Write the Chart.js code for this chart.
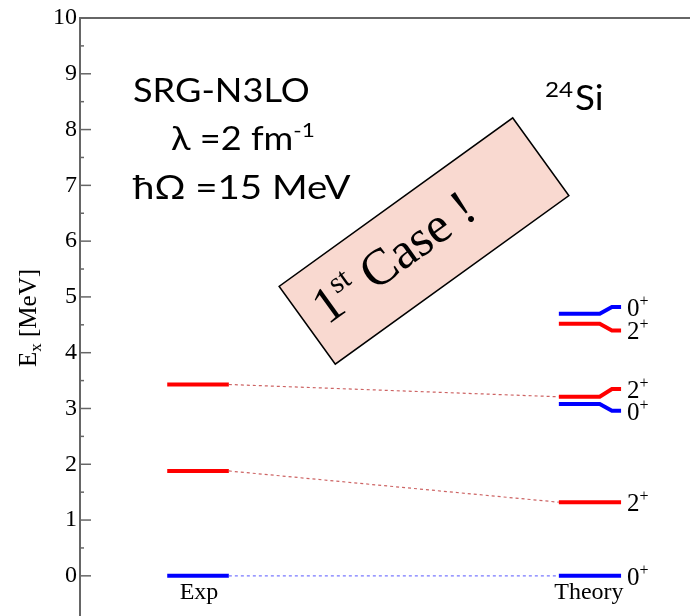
<!DOCTYPE html>
<html>
<head>
<meta charset="utf-8">
<script src="https://cdn.jsdelivr.net/npm/chart.js@4.4.0/dist/chart.umd.min.js"></script>
<style>
html, body { margin: 0; padding: 0; background: #fff; }
#wrap { width: 690px; height: 616px; }
</style>
</head>
<body>
<div id="wrap"><canvas id="myChart" width="690" height="616"></canvas></div>
<script>
// level data (MeV)
var columns = ['Exp', 'Theory'];
var expEnergies = [0, 1.88, 3.43];
var expSpins = ['0', '2', '2'];
var theoryEnergies = [0, 1.32, 3.08, 3.21, 4.52, 4.70];
var theorySpins = ['0', '2', '0', '2', '2', '0'];
var theoryLabelEnergies = [0, 1.32, 2.96, 3.35, 4.40, 4.82];
var links = [[0, 0], [1, 1], [2, 3]]; // exp level -> theory level
var yTicks = [0, 1, 2, 3, 4, 5, 6, 7, 8, 9, 10];

var RED = '#ff0000', BLUE = '#0000ff';
var expX = [1.43, 2.44];
var theoryX = [7.85, 8.52, 8.72, 8.87];
var serif = '"Liberation Serif", "DejaVu Serif", serif';
var sans = 'Lato, "Open Sans", sans-serif';

function spinColor(s) { return s === '0' ? BLUE : RED; }

var datasets = [];
links.forEach(function (l) {
    var s = expSpins[l[0]];
    datasets.push({
        data: [{x: expX[1], y: expEnergies[l[0]]}, {x: theoryX[0], y: theoryEnergies[l[1]]}],
        borderColor: s === '0' ? 'rgba(120,120,255,1)' : 'rgba(205,100,100,1)',
        borderWidth: 1.2,
        borderDash: [3, 3]
    });
});
expEnergies.forEach(function (e, i) {
    datasets.push({
        data: [{x: expX[0], y: e}, {x: expX[1], y: e}],
        borderColor: spinColor(expSpins[i]),
        borderWidth: 4
    });
});
theoryEnergies.forEach(function (e, i) {
    var le = theoryLabelEnergies[i];
    datasets.push({
        data: [{x: theoryX[0], y: e}, {x: theoryX[1], y: e}, {x: theoryX[2], y: le}, {x: theoryX[3], y: le}],
        borderColor: spinColor(theorySpins[i]),
        borderWidth: 4
    });
});

function drawSpin(ctx, txt, x, y) {
    ctx.font = '25px ' + serif;
    ctx.textAlign = 'left';
    ctx.textBaseline = 'alphabetic';
    ctx.fillText(txt, x, y);
    var w = ctx.measureText(txt).width;
    ctx.font = '16px ' + serif;
    ctx.fillText('+', x + w, y - 10);
}

function stretchText(ctx, txt, x, y, sx) {
    ctx.save();
    ctx.translate(x, y);
    ctx.scale(sx, 1);
    ctx.fillText(txt, 0, 0);
    var w = ctx.measureText(txt).width * sx;
    ctx.restore();
    return w;
}

var extras = {
    id: 'extras',
    afterDatasetsDraw: function (chart) {
        var ctx = chart.ctx, a = chart.chartArea;
        var xs = chart.scales.x, ys = chart.scales.y;
        ctx.save();
        // axis frame
        ctx.strokeStyle = '#666';
        ctx.lineWidth = 2;
        ctx.beginPath();
        ctx.moveTo(a.left, a.bottom);
        ctx.lineTo(a.left, a.top);
        ctx.lineTo(a.right, a.top);
        ctx.stroke();
        ctx.lineWidth = 1.5;
        for (var v = 0; v <= 10; v += 0.5) {
            var py = ys.getPixelForValue(v);
            var len = (v % 1 === 0) ? 11 : 4;
            ctx.beginPath();
            ctx.moveTo(a.left, py);
            ctx.lineTo(a.left + len, py);
            ctx.stroke();
        }
        ctx.fillStyle = '#000';
        // spin labels
        var xl = xs.getPixelForValue(theoryX[3]) + 6;
        theoryLabelEnergies.forEach(function (e, i) {
            drawSpin(ctx, theorySpins[i], xl, ys.getPixelForValue(e) + 9);
        });
        // column labels
        ctx.font = '24px ' + serif;
        ctx.textAlign = 'center';
        ctx.fillText(columns[0], (xs.getPixelForValue(expX[0]) + xs.getPixelForValue(expX[1])) / 2 + 1, 599);
        ctx.fillText(columns[1], (xs.getPixelForValue(theoryX[0]) + xs.getPixelForValue(theoryX[3])) / 2 - 1, 599);
        // y axis title E_x [MeV]
        ctx.save();
        ctx.translate(36, 318);
        ctx.rotate(-Math.PI / 2);
        ctx.textAlign = 'left';
        ctx.font = '25px ' + serif;
        var w1 = ctx.measureText('E').width;
        ctx.font = '17px ' + serif;
        var w2 = ctx.measureText('x').width;
        ctx.font = '25px ' + serif;
        var w3 = ctx.measureText(' [MeV]').width;
        var sx = -(w1 + w2 + w3) / 2;
        ctx.fillText('E', sx, 0);
        ctx.font = '17px ' + serif;
        ctx.fillText('x', sx + w1, 5);
        ctx.font = '25px ' + serif;
        ctx.fillText(' [MeV]', sx + w1 + w2, 0);
        ctx.restore();
        // annotation text
        ctx.textAlign = 'left';
        ctx.font = '32px ' + sans;
        stretchText(ctx, 'SRG-N3LO', 133, 102, 1.13);
        var lw = stretchText(ctx, '\u03bb =2 fm', 171, 150, 1.13);
        ctx.font = '20px ' + sans;
        stretchText(ctx, '-1', 171 + lw, 137, 1.13);
        ctx.font = '32px ' + sans;
        stretchText(ctx, '\u0127\u03a9 =15 MeV', 133, 199, 1.2);
        ctx.font = '22px ' + sans;
        var w24 = stretchText(ctx, '24', 545, 97, 1.1);
        ctx.font = '35px ' + sans;
        stretchText(ctx, 'Si', 545 + w24 + 2, 110, 1.05);
        // rotated box
        ctx.save();
        ctx.translate(424, 241);
        ctx.rotate(-35.8 * Math.PI / 180);
        ctx.fillStyle = '#f9d9d0';
        ctx.strokeStyle = '#000';
        ctx.lineWidth = 1.5;
        ctx.fillRect(-144, -48, 288, 96);
        ctx.strokeRect(-144, -48, 288, 96);
        ctx.fillStyle = '#000';
        ctx.textBaseline = 'alphabetic';
        ctx.font = '51px ' + serif;
        var t1 = ctx.measureText('1').width;
        ctx.font = '30px ' + serif;
        var t2 = ctx.measureText('st').width;
        ctx.font = '51px ' + serif;
        var t3 = ctx.measureText(' Case !').width;
        var tx = -(t1 + t2 + t3) / 2 - 34;
        var ty = 12;
        ctx.fillText('1', tx, ty);
        ctx.font = '30px ' + serif;
        ctx.fillText('st', tx + t1, ty - 20);
        ctx.font = '51px ' + serif;
        ctx.fillText(' Case !', tx + t1 + t2, ty);
        ctx.restore();
        ctx.restore();
    }
};

var ctx = document.getElementById('myChart').getContext('2d');
var myChart = new Chart(ctx, {
    type: 'scatter',
    data: { datasets: datasets },
    options: {
        responsive: false,
        animation: false,
        showLine: true,
        elements: { point: { radius: 0, hoverRadius: 0 }, line: { tension: 0 } },
        layout: { padding: { top: 18, left: 0, right: 0, bottom: 0 } },
        plugins: { legend: { display: false }, tooltip: { enabled: false } },
        scales: {
            x: { type: 'linear', display: false, min: 0, max: 10 },
            y: {
                type: 'linear', min: -0.72, max: 10,
                afterBuildTicks: function (s) { s.ticks = yTicks.map(function (v) { return {value: v}; }); },
                afterFit: function (s) { s.width = 80; s.paddingTop = 0; s.paddingBottom = 0; },
                grid: { display: false, drawTicks: false },
                border: { display: false },
                ticks: { color: '#000', padding: 3, font: { family: serif, size: 24 } }
            }
        }
    },
    plugins: [extras]
});
</script>
</body>
</html>
